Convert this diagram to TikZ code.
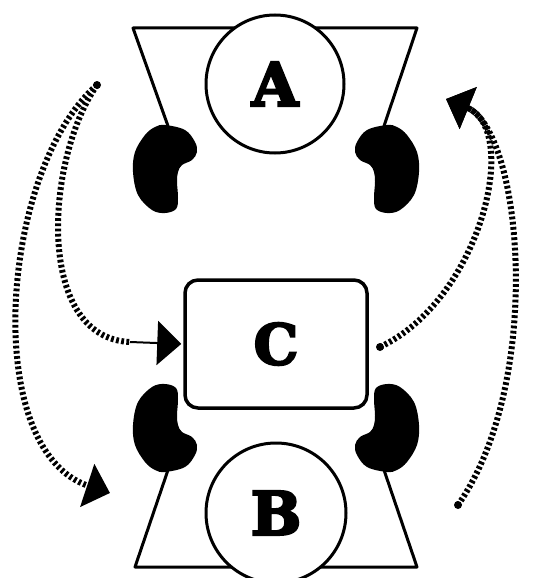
\documentclass[tikz,border=0pt]{standalone}
\usepackage{fontspec}
\newfontfamily\heavyfont[FakeBold=4]{DejaVu Serif Bold}
\usetikzlibrary{arrows.meta}
\tikzset{
  frame/.style={line width=3pt, line cap=round, line join=round},
  disc/.style={circle, draw, line width=3pt, fill=white, minimum size=138pt, inner sep=0pt, font=\heavyfont\fontsize{60}{60}\selectfont},
  boxC/.style={rectangle, draw, line width=3.5pt, rounded corners=13pt, fill=white, minimum width=182pt, minimum height=128pt, inner sep=0pt, font=\heavyfont\fontsize{56}{56}\selectfont},
  dot/.style={circle, fill=black, inner sep=0pt, minimum size=8pt},
  stripe/.style={line width=6pt, dash pattern=on 2.8pt off 2.4pt},
  bigtip/.style={-{Triangle[length=24pt,width=44pt]}},
  bean/.pic={\fill plot[smooth cycle, tension=0.6] coordinates {(-2,0) (18,5) (28,17) (30,27) (25,35) (15,40) (11,47) (10,57) (11,73) (9,84) (-2,88) (-15,85) (-29,70) (-34,47) (-32,27) (-22,10) (-12,2)};}
}
\begin{document}
\begin{tikzpicture}[x=1pt,y=-1pt]
\useasboundingbox (0,0) rectangle (535,578);
\clip (0,0) rectangle (535,578);
% trapezoids
\draw[frame] (168,126) -- (133,28) -- (417,28) -- (384,126);
\draw[frame] (168,470) -- (135,567) -- (417,567) -- (384,470);
% beans
\pic at (167,125) {bean};
\pic[xscale=-1] at (385,125) {bean};
\pic[yscale=-1] at (167,472) {bean};
\pic[xscale=-1,yscale=-1] at (385,472) {bean};
% nodes
\node[disc] (A) at (275,84) {A};
\node[disc, minimum size=140pt] (B) at (276,513) {B};
\node[boxC] (C) at (276,344) {C};
% dots and joints
\node[dot] (d1) at (97,85) {};
\node[dot] (d2) at (380,347) {};
\node[dot] (d3) at (458,505) {};
\coordinate (j1) at (130,342);
\coordinate (t2) at (110,493);
\coordinate (t3) at (446,99);
% connectors
\draw[stripe] (d1.center) .. controls (45,160) and (35,338) .. (j1);
\draw[line width=2pt, bigtip, shorten >=2pt] (j1) -- (C.west);
\draw[stripe, bigtip] (d1.center) .. controls (0,170) and (-20,450) .. (t2);
\draw[stripe, bigtip] (d2.center) .. controls (480,300) and (522,130) .. (t3);
\draw[stripe, bigtip] (d3.center) .. controls (545,380) and (522,130) .. (t3);
\end{tikzpicture}
\end{document}
